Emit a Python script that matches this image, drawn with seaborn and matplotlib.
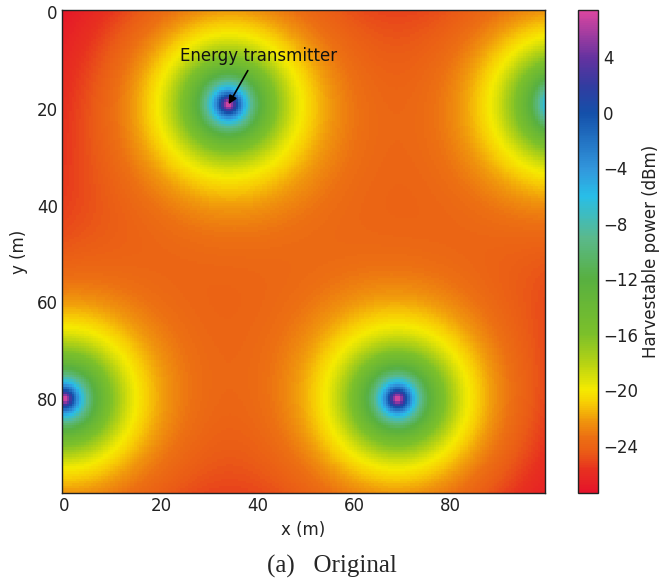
import numpy as np
import matplotlib.pyplot as plt
import seaborn as sns
from matplotlib.colors import LinearSegmentedColormap

# energy transmitter positions (m)
tx_x = [34, 103, 0, 69]
tx_y = [19, 19, 80, 80]

# dual-slope link budget fitted to the colour rings
p_ref_dbm = 7.53
near_exp = 2.4
far_exp = 2.0
break_dist = 14.0
antenna_height = 1.0

area_size = 100
step = 0.5

tick_values = [0, 20, 40, 60, 80]
cbar_ticks = [-24, -20, -16, -12, -8, -4, 0, 4]
v_min, v_max = -27.4, 7.4

# colour scale of the colorbar
cmap_levels = [-27.4, -25.7, -24.6, -23.4, -22.2, -21.0, -20, -18, -16, -12, -9, -6, -4, 0, 2, 4, 7.4]
cmap_colors = ["#e6142a", "#e7321f", "#ea5a16", "#ec7012", "#f0980c", "#f7cc04", "#f5ea00",
               "#b4d214", "#7cc02a", "#58b040", "#5ab98c", "#28bee8", "#3296dc",
               "#1450aa", "#323ca0", "#6432a0", "#dc46a0"]

# Field
coords = np.arange(-0.5 + step / 2, area_size - 0.5, step)
gx, gy = np.meshgrid(coords, coords)
lin = np.zeros_like(gx)
for x0, y0 in zip(tx_x, tx_y):
    d = np.sqrt((gx - x0) ** 2 + (gy - y0) ** 2 + antenna_height ** 2)
    loss = np.where(d <= break_dist,
                    10 * near_exp * np.log10(d),
                    10 * near_exp * np.log10(break_dist) + 10 * far_exp * np.log10(d / break_dist))
    lin += 10 ** ((p_ref_dbm - loss) / 10)
field = 10 * np.log10(lin)


def to_cell(v):
    return (v + 0.5) / step


pos = [(c - cmap_levels[0]) / (cmap_levels[-1] - cmap_levels[0]) for c in cmap_levels]
cmap = LinearSegmentedColormap.from_list("harvest", list(zip(pos, cmap_colors)))

sns.set_style("ticks", {"xtick.direction": "in", "ytick.direction": "in"})

fig = plt.figure(figsize=(6.64, 5.81), dpi=100)
ax = fig.add_axes([62 / 664, 1 - 493 / 581, 483 / 664, 483 / 581])
cax = fig.add_axes([578 / 664, 1 - 493 / 581, 20 / 664, 483 / 581])

sns.heatmap(field, ax=ax, cbar_ax=cax, cmap=cmap, vmin=v_min, vmax=v_max,
            xticklabels=False, yticklabels=False, rasterized=True,
            cbar_kws={"ticks": cbar_ticks})

fs = 12
ax.set_xticks([to_cell(t) for t in tick_values])
ax.set_xticklabels(tick_values, fontsize=fs, color="#222222")
ax.set_yticks([to_cell(t) for t in tick_values])
ax.set_yticklabels(tick_values, fontsize=fs, color="#222222", rotation=0)
ax.tick_params(direction="in", top=True, right=True, length=4, width=0.8, pad=3)
for sp in ax.spines.values():
    sp.set_visible(True)
    sp.set_color("#222222")
    sp.set_linewidth(1.0)
ax.set_xlabel("x (m)", fontsize=fs, color="#222222", labelpad=4)
ax.set_ylabel("y (m)", fontsize=fs, color="#222222", labelpad=6)

ax.annotate("Energy transmitter",
            xy=(to_cell(tx_x[0]), to_cell(tx_y[0])),
            xytext=(to_cell(24), to_cell(9)),
            fontsize=fs, color="#111111", va="center",
            arrowprops=dict(arrowstyle="-|>", color="black", lw=1.2,
                            shrinkA=2, shrinkB=0,
                            relpos=(0.45, 0.0)))

cb = ax.collections[0].colorbar
cb.outline.set_linewidth(1.0)
cb.outline.set_edgecolor("#222222")
cb.ax.tick_params(direction="in", length=4, width=0.8, labelsize=fs, colors="#222222")
cb.set_label("Harvestable power (dBm)", fontsize=fs, color="#222222", labelpad=3)

fig.text(0.5, 1 - 566 / 581, "(a)   Original", ha="center", va="center",
         family="Liberation Serif", fontsize=18)

fig.savefig("out.png", dpi=100)
